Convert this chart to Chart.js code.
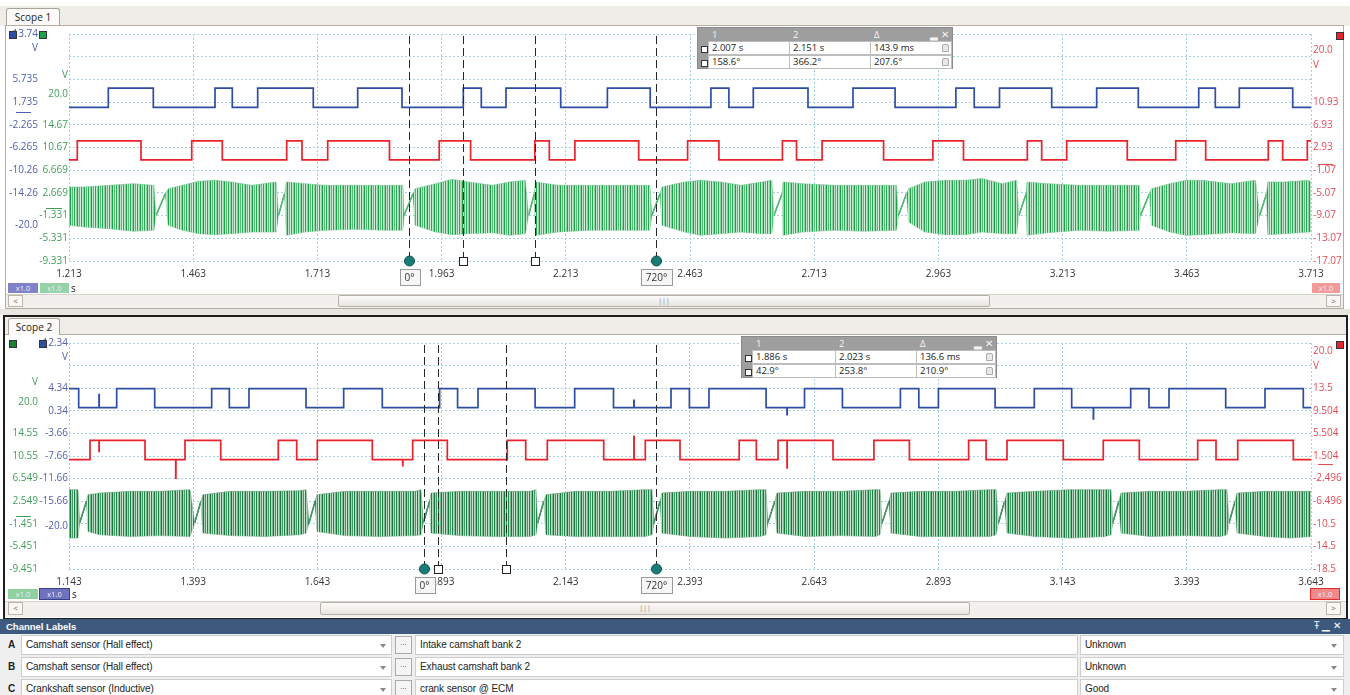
<!DOCTYPE html>
<html><head><meta charset="utf-8">
<script src="https://cdn.jsdelivr.net/npm/chart.js@4.4.1/dist/chart.umd.min.js"></script>
<style>
html,body{margin:0;padding:0;background:#fff;}
body{width:1350px;height:695px;position:relative;overflow:hidden;font-family:'Open Sans','Noto Sans',sans-serif;color:#222;}
.a{position:absolute;box-sizing:border-box;}
canvas{position:absolute;left:0;}
.tab{background:#fcfbf9;border:1px solid #aaa398;border-bottom:none;border-radius:3px 3px 0 0;font-size:10px;line-height:17px;text-align:center;color:#222;}
.sq{width:8px;height:8px;border:1px solid #333;z-index:5;}
.badge{height:10px;font-size:7.5px;line-height:10px;text-align:center;color:#eef;z-index:5;}
.sb{background:#f2f0ec;border-top:1px solid #d6d2ca;}
.arr{width:15px;height:12px;border:1px solid #b9b5ad;background:#f8f7f4;font-size:8px;line-height:10px;text-align:center;color:#555;}
.thumb{height:12px;border:1px solid #b5b1a8;border-radius:2px;background:linear-gradient(#fbfbfa,#e7e5df);font-size:7px;line-height:10px;text-align:center;color:#888;}
.meas{width:256px;height:42px;background:#9e9e9e;border:1px solid #8a8a8a;z-index:6;font-size:9.5px;}
.meas .h{position:absolute;top:0;color:#f4f4f4;font-size:9.5px;line-height:13px;}
.meas .c{position:absolute;height:14px;background:#fff;border:1px solid #bdbdbd;line-height:12px;padding-left:3px;box-sizing:border-box;color:#222;}
.meas .ic{position:absolute;left:3px;width:5px;height:5px;border:1px solid #333;background:#fff;}
.meas .lk{position:absolute;width:5px;height:6px;border:1px solid #aaa;border-radius:2px 2px 0 0;background:#e8e8e8;}
.row{height:22px;left:0;width:1350px;background:#efefef;}
.fld{height:20px;background:#fff;border:1px solid #cdcdcd;font-family:'Liberation Sans',Arial,sans-serif;font-size:10px;line-height:18px;padding-left:4px;color:#222;letter-spacing:-0.1px;}
.dd{width:0;height:0;border-left:3.5px solid transparent;border-right:3.5px solid transparent;border-top:4px solid #8a8a8a;}
.btn{width:17px;height:18px;border:1px solid #a9a9a9;background:#f5f5f5;font-size:8px;line-height:13px;text-align:center;color:#444;}
.lt{font-family:'Liberation Sans',Arial,sans-serif;font-weight:bold;font-size:10px;}
</style></head><body>

<!-- Scope 1 frame -->
<div class="a" style="left:0;top:6px;width:1350px;height:20px;background:#efede8;"></div>
<div class="a tab" style="left:6px;top:8px;width:54px;height:18px;">Scope 1</div>
<div class="a" style="left:5px;top:25px;width:1339px;height:284px;border:1px solid #b4ad9e;background:#fff;"></div>
<div class="a" style="left:0;top:309px;width:1350px;height:6px;background:#e8e6e1;"></div>
<!-- Scope 2 frame -->
<div class="a" style="left:3px;top:315px;width:1345px;height:305px;border:2px solid #1e1e1e;background:#fff;"></div>
<div class="a" style="left:5px;top:317px;width:1341px;height:18px;background:#efede8;border-bottom:1px solid #b4ad9e;"></div>
<div class="a tab" style="left:8px;top:318px;width:52px;height:17px;">Scope 2</div>

<canvas id="c1" width="1350" height="264" style="top:26px"></canvas>
<canvas id="c2" width="1350" height="263" style="top:335px"></canvas>

<!-- channel squares -->
<div class="a sq" style="left:9px;top:31px;background:#2d4ea3;"></div>
<div class="a sq" style="left:39px;top:31px;background:#1fa04a;"></div>
<div class="a sq" style="left:1336px;top:32px;background:#e8232b;"></div>
<div class="a sq" style="left:9px;top:340px;background:#17803b;"></div>
<div class="a sq" style="left:39px;top:340px;background:#2d4ea3;"></div>
<div class="a sq" style="left:1336px;top:341px;background:#e8232b;"></div>

<!-- badges scope 1 -->
<div class="a badge" style="left:8px;top:283px;width:30px;background:#7f82c6;">x1.0</div>
<div class="a badge" style="left:40px;top:283px;width:29px;background:#93d3a7;">x1.0</div>
<div class="a" style="left:71px;top:281px;font-size:10px;z-index:5;">s</div>
<div class="a badge" style="left:1312px;top:283px;width:28px;background:#f19a9a;">x1.0</div>
<!-- scrollbar scope 1 -->
<div class="a sb" style="left:6px;top:294px;width:1337px;height:14px;"></div>
<div class="a arr" style="left:8px;top:295px;">&lt;</div>
<div class="a thumb" style="left:338px;top:295px;width:652px;">|||</div>
<div class="a arr" style="left:1326px;top:295px;">&gt;</div>

<!-- badges scope 2 -->
<div class="a badge" style="left:8px;top:589px;width:30px;background:#8fd09f;">x1.0</div>
<div class="a badge" style="left:39px;top:588px;width:31px;height:12px;background:#6f73bd;border:1px solid #3a3f8a;">x1.0</div>
<div class="a" style="left:72px;top:587px;font-size:10px;z-index:5;">s</div>
<div class="a badge" style="left:1310px;top:588px;width:30px;height:12px;background:#f08a8a;border:1px solid #e52b2b;">x1.0</div>
<!-- scrollbar scope 2 -->
<div class="a sb" style="left:5px;top:601px;width:1341px;height:16px;"></div>
<div class="a arr" style="left:8px;top:602px;height:13px;">&lt;</div>
<div class="a thumb" style="left:320px;top:602px;width:650px;height:13px;">|||</div>
<div class="a arr" style="left:1326px;top:602px;height:13px;">&gt;</div>

<!-- measurement tables -->
<div class="a meas" style="left:697px;top:27px;">
  <span class="h" style="left:14px">1</span><span class="h" style="left:95px">2</span><span class="h" style="left:176px">Δ</span><span class="h" style="left:232px;font-size:10px">▂ ✕</span>
  <span class="ic" style="top:18px"></span><span class="ic" style="top:32px"></span>
  <div class="c" style="left:10px;top:13px;width:82px">2.007 s</div>
  <div class="c" style="left:91px;top:13px;width:82px">2.151 s</div>
  <div class="c" style="left:172px;top:13px;width:82px">143.9 ms</div>
  <div class="c" style="left:10px;top:27px;width:82px">158.6°</div>
  <div class="c" style="left:91px;top:27px;width:82px">366.2°</div>
  <div class="c" style="left:172px;top:27px;width:82px">207.6°</div>
  <span class="lk" style="left:244px;top:16px"></span><span class="lk" style="left:244px;top:30px"></span>
</div>
<div class="a meas" style="left:741px;top:336px;">
  <span class="h" style="left:14px">1</span><span class="h" style="left:97px">2</span><span class="h" style="left:178px">Δ</span><span class="h" style="left:232px;font-size:10px">▂ ✕</span>
  <span class="ic" style="top:18px"></span><span class="ic" style="top:32px"></span>
  <div class="c" style="left:10px;top:13px;width:84px">1.886 s</div>
  <div class="c" style="left:93px;top:13px;width:82px">2.023 s</div>
  <div class="c" style="left:174px;top:13px;width:80px">136.6 ms</div>
  <div class="c" style="left:10px;top:27px;width:84px">42.9°</div>
  <div class="c" style="left:93px;top:27px;width:82px">253.8°</div>
  <div class="c" style="left:174px;top:27px;width:80px">210.9°</div>
  <span class="lk" style="left:244px;top:16px"></span><span class="lk" style="left:244px;top:30px"></span>
</div>

<!-- Channel labels -->
<div class="a" style="left:0;top:619px;width:1350px;height:15px;background:#3d5a7e;"></div>
<div class="a" style="left:6px;top:619px;height:15px;line-height:15px;color:#fff;font-weight:bold;font-size:9.5px;font-family:'Liberation Sans',Arial,sans-serif;">Channel Labels</div>
<div class="a" style="left:1314px;top:618px;height:15px;line-height:15px;color:#fff;font-size:10px;">Ŧ ▁ ✕</div>

<div class="a row" style="top:634px"></div>
<div class="a row" style="top:656px"></div>
<div class="a row" style="top:678px"></div>

<div class="a lt" style="left:8px;top:639px">A</div>
<div class="a fld" style="left:21px;top:635px;width:371px;">Camshaft sensor (Hall effect)</div>
<div class="a dd" style="left:380px;top:644px"></div>
<div class="a btn" style="left:395px;top:636px">···</div>
<div class="a fld" style="left:415px;top:635px;width:663px;">Intake camshaft bank 2</div>
<div class="a fld" style="left:1080px;top:635px;width:264px;">Unknown</div>
<div class="a dd" style="left:1331px;top:644px"></div>

<div class="a lt" style="left:8px;top:661px">B</div>
<div class="a fld" style="left:21px;top:657px;width:371px;">Camshaft sensor (Hall effect)</div>
<div class="a dd" style="left:380px;top:666px"></div>
<div class="a btn" style="left:395px;top:658px">···</div>
<div class="a fld" style="left:415px;top:657px;width:663px;">Exhaust camshaft bank 2</div>
<div class="a fld" style="left:1080px;top:657px;width:264px;">Unknown</div>
<div class="a dd" style="left:1331px;top:666px"></div>

<div class="a lt" style="left:8px;top:683px">C</div>
<div class="a fld" style="left:21px;top:679px;width:371px;">Crankshaft sensor (Inductive)</div>
<div class="a dd" style="left:380px;top:688px"></div>
<div class="a btn" style="left:395px;top:680px">···</div>
<div class="a fld" style="left:415px;top:679px;width:663px;">crank sensor @ ECM</div>
<div class="a fld" style="left:1080px;top:679px;width:264px;">Good</div>
<div class="a dd" style="left:1331px;top:688px"></div>

<script>
// ===================== DATA =====================
// ---- Scope 1 ----
const x1Ticks = [1.213, 1.463, 1.713, 1.963, 2.213, 2.463, 2.713, 2.963, 3.213, 3.463, 3.713];
const x1Labels = ['1.213','1.463','1.713','1.963','2.213','2.463','2.713','2.963','3.213','3.463','3.713'];

const blue1TickVals = [13.74, 11.27, 5.735, 1.735, -2.265, -6.265, -10.26, -14.26, -20.0];
const blue1TickLabels = ['13.74','V','5.735','1.735','-2.265','-6.265','-10.26','-14.26','-20.0'];
const green1TickVals = [23.45, 20.0, 14.67, 10.67, 6.669, 2.669, -1.331, -5.331, -9.331];
const green1TickLabels = ['V','20.0','14.67','10.67','6.669','2.669','-1.331','-5.331','-9.331'];
const red1TickVals = [20.0, 17.47, 10.93, 6.93, 2.93, -1.07, -5.07, -9.07, -13.07, -17.07];
const red1TickLabels = ['20.0','V','10.93','6.93','2.93','-1.07','-5.07','-9.07','-13.07','-17.07'];

const blue1Time = [1.213, 1.2921, 1.3827, 1.5069, 1.5417, 1.5928, 1.7047, 1.7941, 1.8833, 2.0067, 2.0429, 2.0926, 2.2027, 2.2967, 2.3829, 2.5051, 2.5413, 2.5904, 2.7005, 2.7911, 2.8758, 2.9982, 3.0351, 3.0860, 3.1911, 3.2816, 3.3654, 3.4870, 3.5204, 3.5687, 3.6762, 3.713];
const blue1Volt = [0.8, 4.2, 0.8, 4.2, 0.8, 4.2, 0.8, 4.2, 0.8, 4.2, 0.8, 4.2, 0.8, 4.2, 0.8, 4.2, 0.8, 4.2, 0.8, 4.2, 0.8, 4.2, 0.8, 4.2, 0.8, 4.2, 0.8, 4.2, 0.8, 4.2, 0.8, 0.8];

const red1Time = [1.213, 1.2297, 1.3579, 1.4600, 1.5216, 1.6512, 1.6820, 1.7337, 1.8581, 1.9582, 2.0214, 2.1506, 2.1798, 2.2313, 2.3597, 2.4582, 2.5212, 2.6490, 2.6774, 2.7289, 2.8527, 2.9519, 3.0135, 3.1420, 3.1709, 3.2213, 3.3432, 3.4407, 3.5010, 3.6270, 3.6560, 3.7056, 3.713];
const red1Volt = [0.75, 4.1, 0.75, 4.1, 0.75, 4.1, 0.75, 4.1, 0.75, 4.1, 0.75, 4.1, 0.75, 4.1, 0.75, 4.1, 0.75, 4.1, 0.75, 4.1, 0.75, 4.1, 0.75, 4.1, 0.75, 4.1, 0.75, 4.1, 0.75, 4.1, 0.75, 4.1, 4.1];

// crank signal: envelope of teeth (top / bottom) and missing-tooth gaps
const green1Time = [1.2130, 1.2442, 1.2935, 1.3428, 1.3839,
  1.4127, 1.4413, 1.4743, 1.5071, 1.5399, 1.5810, 1.6303,
  1.6508, 1.6878, 1.7289, 1.7865, 1.8521, 1.8851,
  1.9097, 1.9507, 1.9835, 2.0165, 2.0659, 2.0987, 2.1315,
  2.1520, 2.1973, 2.2629, 2.3288, 2.3821,
  2.4066, 2.4520, 2.4840, 2.5250, 2.5657, 2.6071, 2.6277,
  2.6502, 2.6893, 2.7549, 2.8127, 2.8783,
  2.9031, 2.9359, 2.9769, 3.0180, 3.0508, 3.0919, 3.1206,
  3.1414, 3.1822, 3.2480, 3.3056, 3.3672,
  3.3918, 3.4288, 3.4614, 3.4944, 3.5520, 3.6013,
  3.6261, 3.6587, 3.7082, 3.7130];
const green1Top = [3.71, 3.71, 4.00, 4.29, 4.00,
  3.42, 4.00, 4.71, 4.89, 4.59, 4.00, 4.59,
  4.59, 4.29, 4.00, 4.00, 4.00, 4.00,
  3.42, 4.29, 5.07, 4.59, 4.00, 4.59, 4.89,
  4.59, 4.00, 4.00, 4.00, 4.00,
  3.71, 4.59, 4.89, 4.59, 4.00, 4.59, 4.89,
  4.59, 4.29, 4.00, 4.00, 4.00,
  3.42, 4.59, 4.89, 4.89, 5.20, 4.29, 4.89,
  4.59, 4.29, 4.00, 4.00, 4.00,
  3.42, 4.29, 4.89, 4.89, 4.29, 4.89,
  4.59, 4.59, 4.89, 4.60];
const green1Bottom = [-3.04, -3.34, -3.63, -4.10, -3.92,
  -3.04, -3.92, -4.52, -4.70, -4.52, -4.22, -4.22,
  -4.81, -4.22, -3.92, -3.75, -3.92, -3.92,
  -3.04, -4.22, -4.70, -4.52, -4.35, -4.81, -4.52,
  -4.81, -4.22, -3.92, -3.92, -3.92,
  -3.04, -4.22, -4.81, -4.52, -4.22, -4.52, -4.52,
  -4.81, -4.22, -3.92, -4.10, -3.92,
  -2.46, -4.22, -4.70, -4.70, -4.22, -4.52, -4.52,
  -4.81, -4.35, -3.92, -4.10, -3.92,
  -3.04, -4.22, -4.81, -4.70, -4.35, -4.52,
  -4.70, -4.52, -4.22, -4.20];
const green1GapStart = [1.3881, 1.6345, 1.8873, 2.1381, 2.3861, 2.6319, 2.8825, 3.1249, 3.3696, 3.6096];
const green1GapEnd   = [1.4068, 1.6468, 1.9054, 2.1496, 2.4026, 2.6482, 2.8988, 3.1396, 3.3878, 3.6234];
const green1Ramp = [-1.3, 2.5];

const rulers1 = [1.897, 2.3945];
const rulerLabels = ['0°', '720°'];
const cursors1 = [2.007, 2.151];

// ---- Scope 2 ----
const x2Ticks = [1.143, 1.393, 1.643, 1.893, 2.143, 2.393, 2.643, 2.893, 3.143, 3.393, 3.643];
const x2Labels = ['1.143','1.393','1.643','1.893','2.143','2.393','2.643','2.893','3.143','3.393','3.643'];

const green2TickVals = [23.70, 20.0, 14.55, 10.55, 6.549, 2.549, -1.451, -5.451, -9.451];
const green2TickLabels = ['V','20.0','14.55','10.55','6.549','2.549','-1.451','-5.451','-9.451'];
const blue2TickVals = [12.34, 9.79, 4.34, 0.34, -3.66, -7.66, -11.66, -15.66, -20.0];
const blue2TickLabels = ['12.34','V','4.34','0.34','-3.66','-7.66','-11.66','-15.66','-20.0'];
const red2TickVals = [20.0, 17.49, 13.504, 9.504, 5.504, 1.504, -2.496, -6.496, -10.496, -14.496, -18.496];
const red2TickLabels = ['20.0','V','13.5','9.504','5.504','1.504','-2.496','-6.496','-10.5','-14.5','-18.5'];

const blue2Time = [1.143, 1.1625, 1.2034, 1.2038, 1.2390, 1.3155, 1.4302, 1.4657, 1.5053, 1.6201, 1.6959, 1.7736, 1.8890, 1.9252, 1.9663, 2.0812, 2.1609, 2.2390, 2.2801, 2.2805, 2.3548, 2.3918, 2.4312, 2.5462, 2.5883, 2.5887, 2.6235, 2.6998, 2.8165, 2.8536, 2.8930, 3.0071, 3.0860, 3.1613, 3.2049, 3.2053, 3.2801, 3.3169, 3.3572, 3.4713, 3.5504, 3.6275, 3.643];
const blue2Volt = [4.25, 0.89, 3.2, 0.89, 4.25, 0.89, 4.25, 0.89, 4.25, 0.89, 4.25, 0.89, 4.25, 0.89, 4.25, 0.89, 4.25, 0.89, 2.2, 0.89, 4.25, 0.89, 4.25, 0.89, -0.35, 0.89, 4.25, 0.89, 4.25, 0.89, 4.25, 0.89, 4.25, 0.89, -1.1, 0.89, 4.25, 0.89, 4.25, 0.89, 4.25, 0.89, 0.89];

const red2Time = [1.143, 1.1853, 1.2034, 1.2038, 1.2960, 1.3578, 1.3582, 1.3765, 1.4484, 1.5643, 1.6013, 1.6428, 1.7535, 1.8147, 1.8151, 1.8348, 1.9045, 2.0252, 2.0623, 2.1058, 2.2193, 2.2801, 2.2805, 2.3030, 2.3729, 2.4920, 2.5265, 2.5702, 2.5883, 2.5887, 2.6808, 2.7632, 2.8346, 2.9538, 2.9890, 3.0311, 3.1444, 3.2249, 3.2974, 3.4149, 3.4518, 3.4955, 3.6074, 3.643];
const red2Volt = [0.85, 4.26, 2.3, 4.26, 0.85, -2.4, 0.85, 4.26, 0.85, 4.26, 0.85, 4.26, 0.85, -0.2, 0.85, 4.26, 0.85, 4.26, 0.85, 4.26, 0.85, 5.0, 0.85, 4.26, 0.85, 4.26, 0.85, 4.26, -0.6, 4.26, 0.85, 4.26, 0.85, 4.26, 0.85, 4.26, 0.85, 4.26, 0.85, 4.26, 0.85, 4.26, 0.85, 0.85];

const green2Time = [1.1430, 1.1611,
  1.1812, 1.2054, 1.2658, 1.3262, 1.3866,
  1.4127, 1.4671, 1.5375, 1.6080, 1.6201,
  1.6422, 1.6986, 1.7690, 1.8395, 1.8515,
  1.8717, 1.9300, 2.0005, 2.0709, 2.0830,
  2.1032, 2.1615, 2.2320, 2.3024, 2.3165,
  2.3366, 2.3930, 2.4635, 2.5339, 2.5460,
  2.5681, 2.6245, 2.6949, 2.7654, 2.7755,
  2.7976, 2.8560, 2.9264, 2.9969, 3.0090,
  3.0311, 3.0875, 3.1579, 3.2284, 3.2404,
  3.2606, 3.3189, 3.3894, 3.4598, 3.4739,
  3.4941, 3.5504, 3.6007, 3.6430];
const green2Top = [4.59, 4.59,
  3.70, 4.00, 4.29, 4.29, 4.59,
  3.70, 4.29, 4.29, 4.40, 4.59,
  3.70, 4.29, 4.29, 4.29, 4.59,
  4.00, 4.29, 4.29, 4.29, 4.59,
  3.70, 4.29, 4.29, 4.59, 4.59,
  4.00, 4.29, 4.29, 4.59, 4.59,
  4.00, 4.29, 4.29, 4.59, 4.59,
  4.00, 4.29, 4.29, 4.59, 4.59,
  4.00, 4.29, 4.59, 4.59, 4.59,
  4.00, 4.29, 4.29, 4.59, 4.59,
  4.00, 4.29, 4.29, 4.29];
const green2Bottom = [-3.98, -3.98,
  -2.80, -3.39, -3.69, -3.54, -3.69,
  -3.10, -3.54, -3.69, -3.39, -3.10,
  -2.80, -3.54, -3.69, -3.54, -3.39,
  -3.10, -3.54, -3.69, -3.69, -3.39,
  -3.39, -3.69, -3.69, -3.69, -3.39,
  -3.10, -3.69, -3.98, -3.69, -3.39,
  -3.10, -3.69, -3.54, -3.69, -3.39,
  -3.10, -3.69, -3.69, -3.69, -3.39,
  -3.10, -3.69, -3.98, -3.69, -3.39,
  -3.10, -3.69, -3.54, -3.69, -3.39,
  -3.10, -3.69, -3.98, -3.69];
const green2GapStart = [1.1643, 1.3960, 1.6261, 1.8562, 2.0862, 2.3204, 2.5496, 2.7795, 3.0138, 3.2439, 3.4780];
const green2GapEnd   = [1.1782, 1.4083, 1.6382, 1.8685, 2.0985, 2.3326, 2.5635, 2.7936, 3.0261, 3.2561, 3.4900];
const green2Ramp = [-1.3, 2.5];

const rulers2 = [1.8582, 2.3246];
const cursors2 = [1.886, 2.023];

const gridDivisions = [0,1,2,3,4,5,6,7,8,9,10];

// ===================== STYLE =====================
const FONT = "'Open Sans','Noto Sans',sans-serif";
const GRID = '#a3d2e4';
const BLUE = '#2d4ea3', RED = '#e8232b';
const BLUE_T = '#5160b4', GREEN_T = '#3f9f5a', RED_T = '#e64b55';

function steps(t, v) { return t.map((x, i) => ({x: x, y: v[i]})); }

function band(time, top, bottom, gs, ge, ramp) {
  const p = time.map((t, i) => ({t: t, hi: top[i], lo: bottom[i]}));
  gs.forEach(t => p.push({t: t, hi: ramp[0], lo: ramp[0]}));
  ge.forEach(t => p.push({t: t, hi: ramp[1], lo: ramp[1]}));
  p.sort((a, b) => a.t - b.t);
  return {top: p.map(q => ({x: q.t, y: q.hi})), bottom: p.map(q => ({x: q.t, y: q.lo}))};
}
function ramps(gs, ge, ramp) {
  const out = [];
  gs.forEach((t, i) => { out.push({x: t, y: ramp[0]}, {x: ge[i], y: ramp[1]}, {x: ge[i], y: null}); });
  return out;
}
// texture that imitates the dense teeth of the inductive signal
function stripes(ctx, cols) {
  const c = document.createElement('canvas'); c.width = cols.length; c.height = 1;
  const g = c.getContext('2d');
  cols.forEach((col, i) => { g.fillStyle = col; g.fillRect(i, 0, 1, 1); });
  return ctx.createPattern(c, 'repeat');
}

function yAxis(vals, labels, min, max, pos, weight, width, color, pad) {
  return {
    type: 'linear', position: pos, weight: weight, min: min, max: max,
    grid: {display: false, drawTicks: false}, border: {display: false},
    ticks: {color: color, font: {family: FONT, size: 10}, padding: pad, autoSkip: false,
            callback: (v, i) => labels[i]},
    afterBuildTicks: s => { s.ticks = vals.map(v => ({value: v})); },
    afterFit: s => { s.width = width; }
  };
}
function xAxis(vals, labels) {
  return {
    type: 'linear', position: 'bottom', min: vals[0], max: vals[vals.length - 1],
    grid: {color: GRID, drawTicks: false, lineWidth: 1},
    border: {display: false, dash: [2, 2]},
    ticks: {color: '#333', font: {family: FONT, size: 10}, padding: 7, autoSkip: false,
            maxRotation: 0, minRotation: 0, callback: (v, i) => labels[i]},
    afterBuildTicks: s => { s.ticks = vals.map(v => ({value: v})); },
    afterFit: s => { s.height = 29; }
  };
}
function gridAxis() {
  return {
    type: 'linear', position: 'right', weight: 9, min: 0, max: 10,
    grid: {color: GRID, drawTicks: false, lineWidth: 1},
    border: {display: false, dash: [2, 2]},
    ticks: {display: false},
    afterBuildTicks: s => { s.ticks = gridDivisions.map(v => ({value: v})); },
    afterFit: s => { s.width = 0; }
  };
}

function cursorPlugin(rulers, labels, times) {
  return {
    id: 'cursors',
    afterDatasetsDraw(chart) {
      const ctx = chart.ctx, a = chart.chartArea, x = chart.scales.x;
      ctx.save();
      ctx.strokeStyle = '#262626'; ctx.lineWidth = 1; ctx.setLineDash([8, 4]);
      rulers.concat(times).forEach(t => {
        const px = Math.round(x.getPixelForValue(t)) + 0.5;
        ctx.beginPath(); ctx.moveTo(px, a.top + 2); ctx.lineTo(px, a.bottom); ctx.stroke();
      });
      ctx.setLineDash([]);
      times.forEach(t => {
        const px = Math.round(x.getPixelForValue(t));
        ctx.fillStyle = '#fff'; ctx.fillRect(px - 4, a.bottom - 4, 8, 8);
        ctx.strokeStyle = '#222'; ctx.strokeRect(px - 3.5, a.bottom - 3.5, 8, 8);
      });
      rulers.forEach((t, i) => {
        const px = Math.round(x.getPixelForValue(t)) + 0.5;
        ctx.beginPath(); ctx.arc(px, a.bottom, 5, 0, Math.PI * 2);
        ctx.fillStyle = '#1b7b76'; ctx.fill();
        ctx.strokeStyle = '#0f4e4b'; ctx.stroke();
        ctx.font = '10px ' + FONT;
        const w = Math.round(ctx.measureText(labels[i]).width) + 10;
        const bx = Math.round(px - w / 2) + 0.5, by = Math.round(a.bottom) + 8.5;
        ctx.fillStyle = '#f6f6f6'; ctx.fillRect(bx, by, w, 16);
        ctx.strokeStyle = '#9a9a9a'; ctx.strokeRect(bx, by, w, 16);
        ctx.fillStyle = '#333'; ctx.textAlign = 'center'; ctx.textBaseline = 'middle';
        ctx.fillText(labels[i], px, by + 8.5);
      });
      ctx.restore();
    }
  };
}
function zeroPlugin(items) {
  return {
    id: 'zeros',
    afterDraw(chart) {
      const ctx = chart.ctx;
      ctx.save(); ctx.lineWidth = 1;
      items.forEach(it => {
        const y = Math.round(chart.scales[it.axis].getPixelForValue(0)) + 0.5;
        ctx.strokeStyle = it.color;
        ctx.beginPath(); ctx.moveTo(it.x1, y); ctx.lineTo(it.x2, y); ctx.stroke();
      });
      ctx.restore();
    }
  };
}

function makeChart(id, cfg) {
  const cv = document.getElementById(id);
  const ctx = cv.getContext('2d');
  const b = band(cfg.gTime, cfg.gTop, cfg.gBottom, cfg.gGs, cfg.gGe, cfg.gRamp);
  return new Chart(ctx, {
    type: 'line',
    data: {datasets: [
      {data: b.top, yAxisID: 'yG', borderColor: cfg.gEdge, borderWidth: 1, pointRadius: 0,
       backgroundColor: stripes(ctx, cfg.gCols), fill: '+1', tension: 0},
      {data: b.bottom, yAxisID: 'yG', borderColor: cfg.gEdge, borderWidth: 1, pointRadius: 0, fill: false, tension: 0},
      {data: ramps(cfg.gGs, cfg.gGe, cfg.gRamp), yAxisID: 'yG', borderColor: cfg.gCols[0], borderWidth: 1.5,
       pointRadius: 0, fill: false, spanGaps: false},
      {data: steps(cfg.bT, cfg.bV), yAxisID: 'yB', borderColor: BLUE, borderWidth: 1.7, pointRadius: 0, fill: false, stepped: 'before'},
      {data: steps(cfg.rT, cfg.rV), yAxisID: 'yR', borderColor: RED, borderWidth: 1.7, pointRadius: 0, fill: false, stepped: 'before'}
    ]},
    options: {
      responsive: false, animation: false, devicePixelRatio: 1, events: [],
      layout: {padding: {top: 8, left: 0, right: 0, bottom: 0}},
      plugins: {legend: {display: false}, tooltip: {enabled: false}},
      scales: cfg.scales
    },
    plugins: [cursorPlugin(cfg.rulers, rulerLabels, cfg.cursors), zeroPlugin(cfg.zeros)]
  });
}

makeChart('c1', {
  gTime: green1Time, gTop: green1Top, gBottom: green1Bottom, gGs: green1GapStart, gGe: green1GapEnd, gRamp: green1Ramp,
  gCols: ['#1c9f48', '#b9e4c6', '#55bb78', '#d4eedc', '#2aa553', '#c2e7cd', '#8fd1a4'],
  gEdge: 'rgba(110,195,140,0.55)',
  bT: blue1Time, bV: blue1Volt, rT: red1Time, rV: red1Volt,
  rulers: rulers1, cursors: cursors1,
  zeros: [{axis: 'yB', x1: 16, x2: 31, color: BLUE_T}, {axis: 'yG', x1: 46, x2: 62, color: GREEN_T}, {axis: 'yR', x1: 1318, x2: 1333, color: RED_T}],
  scales: {
    x: xAxis(x1Ticks, x1Labels),
    yB: yAxis(blue1TickVals, blue1TickLabels, -26.26, 13.74, 'left', 1, 39, BLUE_T, 1),
    yG: yAxis(green1TickVals, green1TickLabels, -9.331, 30.669, 'left', 0, 30, GREEN_T, 1),
    yR: yAxis(red1TickVals, red1TickLabels, -17.07, 22.93, 'right', 0, 39, RED_T, 2),
    yGrid: gridAxis()
  }
});

makeChart('c2', {
  gTime: green2Time, gTop: green2Top, gBottom: green2Bottom, gGs: green2GapStart, gGe: green2GapEnd, gRamp: green2Ramp,
  gCols: ['#14783a', '#add5b8', '#44976a', '#cbe5d2', '#1e8244', '#b7dac1', '#7fb993'],
  gEdge: 'rgba(90,160,115,0.55)',
  bT: blue2Time, bV: blue2Volt, rT: red2Time, rV: red2Volt,
  rulers: rulers2, cursors: cursors2,
  zeros: [{axis: 'yG', x1: 16, x2: 31, color: GREEN_T}, {axis: 'yR', x1: 1318, x2: 1333, color: RED_T}],
  scales: {
    x: xAxis(x2Ticks, x2Labels),
    yG: yAxis(green2TickVals, green2TickLabels, -9.451, 30.549, 'left', 1, 39, GREEN_T, 1),
    yB: yAxis(blue2TickVals, blue2TickLabels, -27.66, 12.34, 'left', 0, 30, BLUE_T, 1),
    yR: yAxis(red2TickVals, red2TickLabels, -18.496, 21.504, 'right', 0, 39, RED_T, 2),
    yGrid: gridAxis()
  }
});
</script>
</body></html>
